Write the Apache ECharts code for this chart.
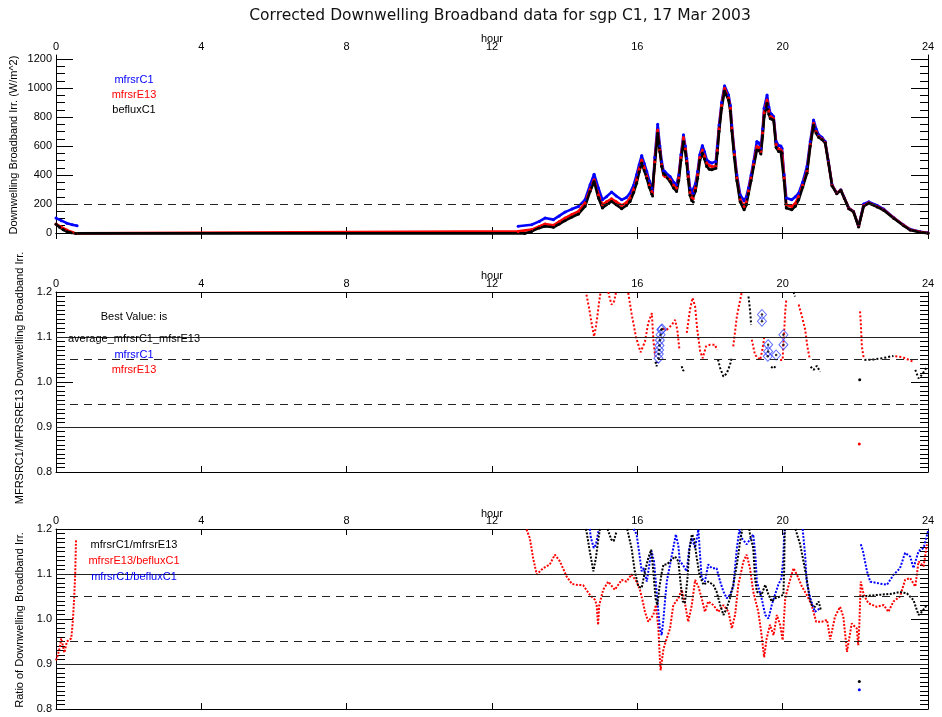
<!DOCTYPE html>
<html><head><meta charset="utf-8">
<script src="https://cdn.jsdelivr.net/npm/echarts@6/dist/echarts.min.js"></script>
<style>html,body{margin:0;padding:0;background:#fff}#c{width:942px;height:717px}</style>
</head><body><div id="c"></div>
<script>
// ---------- tick labels ----------
const hourTicks = [0, 4, 8, 12, 16, 20, 24];
const irrTicks = [0, 200, 400, 600, 800, 1000, 1200];
const ratioTicks = [0.8, 0.9, 1.0, 1.1, 1.2];

// ---------- top panel: irradiance (W/m^2), [hour, value], null = gap ----------
const irrMfrsrC1 = [[0,103],[0.15,85],[0.3,68],[0.45,57],[0.58,50],null,
[12.72,46],[13.09,57],[13.3,80],[13.46,103],[13.69,92],[13.85,118],[14.01,144],[14.2,165],[14.38,183],[14.56,229],[14.70,332],[14.81,406],[14.93,310],[15.04,229],[15.15,250],[15.29,282],[15.42,255],[15.57,229],[15.70,245],[15.80,275],[15.90,330],[15.98,401],[16.05,470],[16.12,534],[16.19,480],[16.26,424],[16.33,360],[16.40,310],[16.42,290],[16.48,520],[16.56,750],[16.62,600],[16.67,493],[16.72,430],[16.76,424],[16.90,390],[17.00,350],[17.08,332],[17.14,400],[17.20,539],[17.27,677],[17.32,600],[17.36,516],[17.40,420],[17.45,310],[17.50,280],[17.54,275],[17.60,340],[17.66,424],[17.72,540],[17.79,603],[17.85,560],[17.91,505],[17.98,490],[18.05,482],[18.16,493],[18.20,600],[18.25,745],[18.32,900],[18.40,1016],[18.51,952],[18.56,880],[18.60,745],[18.67,562],[18.74,401],[18.83,264],[18.94,222],[19.00,250],[19.06,310],[19.13,400],[19.20,493],[19.29,631],[19.35,620],[19.40,585],[19.45,720],[19.49,860],[19.57,952],[19.62,870],[19.66,826],[19.70,820],[19.75,803],[19.82,631],[19.89,603],[19.95,600],[19.98,585],[20.04,401],[20.10,241],[20.25,229],[20.35,250],[20.44,275],[20.55,350],[20.67,459],[20.76,631],[20.85,780],[20.92,720],[20.99,677],[21.08,660],[21.17,631],[21.26,493],[21.36,332],[21.49,275],[21.60,298],[21.70,241],[21.82,172],[21.95,149],[22.09,46],[22.23,200],[22.37,215],[22.60,190],[22.78,165],[23.06,105],[23.33,55],[23.51,25],[23.79,8],[24,2]];
const irrMfrsrE13 = [[0,62],[0.15,40],[0.3,20],[0.45,5],[0.55,-3],[12.72,11],[13.09,23],[13.3,45],[13.46,62],[13.69,53],[13.85,78],[14.01,103],[14.2,128],[14.38,149],[14.56,206],[14.70,298],[14.81,367],[14.93,264],[15.04,195],[15.15,215],[15.29,236],[15.42,215],[15.57,190],[15.70,210],[15.80,241],[15.90,300],[15.98,367],[16.05,440],[16.12,504],[16.19,450],[16.26,390],[16.33,330],[16.40,287],[16.42,270],[16.48,490],[16.56,711],[16.62,570],[16.67,470],[16.72,400],[16.76,390],[16.90,367],[17.00,330],[17.08,310],[17.14,380],[17.20,520],[17.27,658],[17.32,580],[17.36,495],[17.40,390],[17.45,280],[17.50,245],[17.54,236],[17.60,310],[17.66,401],[17.72,520],[17.79,573],[17.85,530],[17.91,482],[17.98,465],[18.05,459],[18.16,459],[18.20,570],[18.25,720],[18.32,880],[18.40,998],[18.51,930],[18.56,860],[18.60,725],[18.67,540],[18.74,380],[18.83,230],[18.94,183],[19.00,215],[19.06,290],[19.13,380],[19.20,470],[19.29,596],[19.35,590],[19.40,560],[19.45,690],[19.49,830],[19.57,917],[19.62,840],[19.66,803],[19.70,800],[19.75,790],[19.82,610],[19.89,580],[19.95,575],[19.98,560],[20.04,380],[20.10,195],[20.25,183],[20.35,205],[20.44,252],[20.55,330],[20.67,424],[20.76,610],[20.85,757],[20.92,700],[20.99,665],[21.08,650],[21.17,625],[21.26,488],[21.36,330],[21.49,272],[21.60,296],[21.70,240],[21.82,170],[21.95,147],[22.09,44],[22.23,190],[22.37,208],[22.60,183],[22.78,160],[23.06,103],[23.33,53],[23.51,23],[23.79,7],[24,0]];
const irrBefluxC1 = [[0,60],[0.1,40],[0.2,22],[0.3,10],[0.42,2],[0.55,-3],[12.9,-3],[13.09,11],[13.3,35],[13.46,46],[13.69,39],[13.85,62],[14.01,85],[14.2,110],[14.38,131],[14.56,183],[14.70,287],[14.81,355],[14.93,241],[15.04,172],[15.15,195],[15.29,218],[15.42,195],[15.57,167],[15.70,190],[15.80,218],[15.90,280],[15.98,344],[16.05,420],[16.12,482],[16.19,430],[16.26,378],[16.33,315],[16.40,268],[16.42,255],[16.48,470],[16.56,688],[16.62,560],[16.67,460],[16.72,410],[16.76,401],[16.90,355],[17.00,310],[17.08,287],[17.14,360],[17.20,500],[17.27,631],[17.32,560],[17.36,480],[17.40,370],[17.45,260],[17.50,222],[17.54,213],[17.60,290],[17.66,378],[17.72,500],[17.79,550],[17.85,510],[17.91,459],[17.98,440],[18.05,436],[18.16,447],[18.20,550],[18.25,700],[18.32,860],[18.40,979],[18.51,917],[18.56,840],[18.60,705],[18.67,520],[18.74,360],[18.83,215],[18.94,160],[19.00,195],[19.06,270],[19.13,360],[19.20,455],[19.29,573],[19.35,570],[19.40,545],[19.45,670],[19.49,800],[19.57,895],[19.62,820],[19.66,790],[19.70,785],[19.75,780],[19.82,590],[19.89,562],[19.95,560],[19.98,550],[20.04,360],[20.10,172],[20.25,160],[20.35,185],[20.44,229],[20.55,315],[20.67,413],[20.76,600],[20.85,745],[20.92,690],[20.99,660],[21.08,645],[21.17,620],[21.26,485],[21.36,325],[21.49,270],[21.60,294],[21.70,238],[21.82,168],[21.95,145],[22.09,42],[22.23,185],[22.37,205],[22.60,180],[22.78,157],[23.06,100],[23.33,50],[23.51,20],[23.79,4],[24,-2]];

// ---------- middle panel: best-value ratio mfrsrC1/mfrsrE13 ----------
const bestRed = [[14.60,1.194],[14.68,1.161],[14.74,1.131],[14.81,1.101],[14.86,1.123],[14.90,1.146],[14.95,1.179],[14.99,1.2],null,
[15.20,1.2],[15.23,1.19],[15.29,1.172],[15.36,1.179],[15.41,1.198],null,
[15.75,1.198],[15.84,1.153],[15.96,1.101],[16.09,1.066],[16.21,1.090],[16.30,1.131],[16.40,1.153],[16.44,1.094],[16.49,1.057],null,
[16.70,1.118],[16.81,1.116],[16.95,1.127],[17.04,1.138],[17.10,1.116],[17.16,1.071],null,
[17.36,1.109],[17.45,1.161],[17.52,1.187],[17.59,1.168],[17.65,1.116],[17.73,1.068],[17.80,1.053],[17.89,1.079],[18.00,1.083],[18.14,1.083],[18.19,1.071],null,
[18.64,1.079],[18.74,1.146],[18.87,1.198],null,
[19.15,1.094],[19.24,1.060],[19.38,1.049],[19.44,1.071],[19.47,1.086],[19.49,1.1],null,
[19.93,1.049],[20.00,1.049],[20.02,1.086],[20.04,1.109],[20.07,1.157],[20.10,1.183],null,
[20.44,1.172],[20.53,1.146],[20.62,1.116],[20.68,1.079],[20.74,1.053],null,
[22.11,0.862],null,
[22.13,1.157],[22.15,1.131],[22.18,1.079],[22.23,1.053],null,
[23.10,1.057],[23.30,1.055],[23.45,1.05],[23.60,1.045]];
const bestBlack = [[16.50,1.045],[16.53,1.035],[16.56,1.045],null,
[17.22,1.035],[17.26,1.025],[17.31,1.03],null,
[18.22,1.05],[18.28,1.031],[18.37,1.012],[18.46,1.019],[18.55,1.038],[18.60,1.055],null,
[19.06,1.19],[19.10,1.161],[19.12,1.142],[19.13,1.127],null,
[19.68,1.034],[19.75,1.03],[19.80,1.035],null,
[20.30,1.2],[20.34,1.19],null,
[20.77,1.034],[20.85,1.027],[20.94,1.036],[21.03,1.023],null,
[22.12,1.005],null,
[22.25,1.049],[22.50,1.05],[22.75,1.053],[23.05,1.058],null,
[23.65,1.027],[23.74,1.008],[23.83,1.016],[23.97,1.033]];
const bestBlue = [[16.58,1.053],[16.59,1.062],[16.60,1.071],[16.61,1.081],[16.62,1.093],[16.64,1.105],[16.66,1.116],[16.68,1.118],[19.43,1.15],[19.43,1.135],[19.60,1.083],[19.60,1.068],[19.59,1.057],[19.82,1.06],[20.02,1.105],[20.02,1.083]];

// ---------- bottom panel: ratios ----------
const ratioC1E13 = [[14.58,1.2],[14.60,1.195],[14.69,1.151],[14.79,1.106],[14.86,1.136],[14.92,1.173],[14.97,1.2],null,
[15.18,1.2],[15.28,1.177],[15.35,1.173],[15.43,1.195],null,
[15.72,1.2],[15.75,1.199],[15.84,1.158],[15.93,1.106],[16.03,1.072],[16.12,1.069],[16.21,1.106],[16.30,1.135],[16.38,1.154],[16.44,1.106],[16.50,1.046],[16.55,1.031],[16.61,1.072],[16.67,1.102],[16.72,1.121],[16.81,1.121],[16.95,1.132],[17.04,1.139],[17.13,1.128],[17.19,1.080],[17.25,1.039],[17.31,1.035],[17.38,1.091],[17.43,1.151],[17.50,1.188],[17.56,1.18],[17.63,1.139],[17.71,1.098],[17.82,1.076],[17.95,1.083],[18.09,1.076],[18.18,1.061],[18.28,1.031],[18.37,1.009],[18.46,1.024],[18.55,1.046],[18.64,1.076],[18.74,1.121],[18.83,1.173],[18.89,1.2],null,
[19.08,1.2],[19.10,1.188],[19.19,1.158],[19.24,1.091],[19.29,1.061],[19.42,1.054],[19.52,1.076],[19.61,1.054],[19.70,1.039],[19.79,1.046],[19.93,1.050],[20.02,1.054],[20.04,1.106],[20.05,1.158],[20.06,1.2],null,
[20.35,1.2],[20.37,1.199],[20.48,1.166],[20.59,1.121],[20.66,1.091],[20.74,1.046],[20.80,1.031],[20.89,1.027],[20.99,1.039],[21.05,1.020],null,
[22.11,0.861],null,
[22.18,1.050],[22.40,1.052],[22.70,1.054],[23.0,1.056],[23.23,1.06],[23.42,1.057],[23.60,1.042],[23.74,1.009],[23.83,1.016],[23.97,1.031]];
const ratioE13Beflux = [[0.0,0.908],[0.05,0.92],[0.1,0.935],[0.145,0.957],[0.19,0.94],[0.23,0.925],[0.3,0.95],[0.42,0.957],[0.46,0.992],[0.5,1.046],[0.53,1.104],[0.55,1.175],null,
[12.95,1.199],[13.04,1.180],[13.13,1.136],[13.23,1.099],[13.41,1.113],[13.59,1.121],[13.73,1.143],[13.87,1.128],[14.05,1.095],[14.20,1.078],[14.33,1.076],[14.51,1.075],[14.69,1.054],[14.83,1.043],[14.88,1.032],[14.90,1.009],[14.92,0.987],[14.95,1.03],[15.06,1.065],[15.20,1.083],[15.38,1.065],[15.57,1.087],[15.70,1.083],[15.84,1.099],[15.98,1.083],[16.07,1.065],[16.15,1.039],[16.21,1.016],[16.30,0.994],[16.44,1.009],[16.51,1.031],[16.58,0.979],[16.62,0.912],[16.64,0.886],[16.72,0.934],[16.81,0.957],[16.90,0.979],[16.99,1.031],[17.13,1.046],[17.22,1.065],[17.31,1.035],[17.40,0.994],[17.50,1.031],[17.59,1.087],[17.68,1.072],[17.77,1.046],[17.86,1.016],[17.95,1.039],[18.09,1.031],[18.23,1.016],[18.37,1.031],[18.51,1.016],[18.60,0.979],[18.69,1.009],[18.78,1.076],[18.92,1.128],[19.01,1.143],[19.10,1.113],[19.19,1.061],[19.33,1.016],[19.42,0.964],[19.49,0.915],[19.56,0.957],[19.65,0.987],[19.75,0.964],[19.84,1.009],[19.93,0.987],[20.00,0.953],[20.07,1.046],[20.19,1.083],[20.30,1.113],[20.41,1.095],[20.53,1.072],[20.66,1.054],[20.80,1.031],[20.92,0.994],[21.08,0.994],[21.22,0.998],[21.31,0.955],[21.44,1.005],[21.58,1.027],[21.67,1.005],[21.77,0.927],[21.90,0.990],[22.04,0.979],[22.08,0.942],[22.11,0.987],[22.15,1.083],[22.23,1.054],[22.36,1.035],[22.59,1.027],[22.78,1.031],[22.91,1.016],[23.05,1.039],[23.23,1.050],[23.37,1.087],[23.51,1.091],[23.65,1.072],[23.74,1.128],[23.88,1.117],[23.97,1.166]];
const ratioC1Beflux = [[14.69,1.2],[14.72,1.181],[14.80,1.158],[14.86,1.165],[14.93,1.195],null,
[15.90,1.2],[15.98,1.188],[16.07,1.136],[16.12,1.106],[16.18,1.113],[16.26,1.083],[16.33,1.121],[16.39,1.151],[16.46,1.128],[16.53,1.061],[16.58,1.016],[16.62,0.979],[16.67,0.964],[16.72,1.001],[16.76,1.039],[16.81,1.083],[16.90,1.121],[16.99,1.158],[17.06,1.188],[17.13,1.162],[17.17,1.128],[17.25,1.121],[17.36,1.106],[17.43,1.158],[17.50,1.180],[17.59,1.158],[17.68,1.199],[17.72,1.15],[17.77,1.091],[17.86,1.083],[17.95,1.121],[18.05,1.113],[18.18,1.113],[18.28,1.083],[18.37,1.061],[18.46,1.046],[18.55,1.054],[18.64,1.072],[18.74,1.158],[18.81,1.199],[18.87,1.18],[19.01,1.166],[19.19,1.188],[19.25,1.14],[19.29,1.083],[19.42,1.046],[19.52,1.009],[19.61,1.001],[19.70,1.031],[19.79,1.054],[19.88,1.076],[19.97,1.091],[20.02,1.14],[20.04,1.188],[20.06,1.2],null,
[20.55,1.2],[20.57,1.199],[20.62,1.14],[20.66,1.083],[20.76,1.046],[20.89,1.016],[21.03,1.024],null,
[22.11,0.843],null,
[22.15,1.166],[22.21,1.151],[22.32,1.106],[22.41,1.083],[22.59,1.080],[22.87,1.076],[23.05,1.098],[23.23,1.113],[23.37,1.147],[23.51,1.139],[23.60,1.113],[23.74,1.151],[23.88,1.158],[24.0,1.195]];

// ---------- reference lines ----------
const irrRefDashed = [200];
const ratioRefSolid = [1.1, 0.9];
const ratioRefDashed = [1.05, 0.95];

// ---------- build ----------
const FONT = '"Liberation Sans", Arial, sans-serif';
const BLUE = '#0000ff', RED = '#ff0000', BLACK = '#000000';
const panels = [{top:55, h:179}, {top:292, h:180}, {top:529, h:180}];
const PLOT_L = 56, PLOT_R = 14;

function splitSegs(arr) {
  const segs = []; let cur = [];
  arr.forEach(p => { if (p === null) { if (cur.length) segs.push(cur); cur = []; } else cur.push(p); });
  if (cur.length) segs.push(cur);
  return segs;
}

const grid = panels.map(p => ({left: PLOT_L, right: PLOT_R, top: p.top, height: p.h, containLabel: false, outerBoundsMode: 'none'}));

const xAxis = [];
panels.forEach((p, i) => {
  const base = {gridIndex: i, type: 'value', min: 0, max: 24, interval: 4,
    axisLine: {show: true, lineStyle: {color: BLACK, width: 1}},
    axisTick: {show: true, inside: true, length: 6, lineStyle: {color: BLACK}},
    splitLine: {show: false}};
  xAxis.push(Object.assign({}, base, {position: 'top',
    axisLabel: {show: true, margin: 3, color: BLACK, fontFamily: FONT, fontSize: 11,
      customValues: hourTicks, formatter: v => String(v)}}));
  xAxis.push(Object.assign({}, base, {position: 'bottom', axisLabel: {show: false}}));
});

const yAxis = [];
function addYPair(g, min, max, majors, minors, fmt) {
  ['left', 'right'].forEach(pos => {
    yAxis.push({gridIndex: g, type: 'value', position: pos, min, max,
      axisLine: {show: true, lineStyle: {color: BLACK}},
      axisTick: {show: true, inside: true, length: 17, customValues: majors, lineStyle: {color: BLACK}},
      axisLabel: {show: pos === 'left', margin: 4, color: BLACK, fontFamily: FONT, fontSize: 11,
        customValues: majors, formatter: fmt},
      splitLine: {show: false}});
    yAxis.push({gridIndex: g, type: 'value', position: pos, min, max,
      axisLine: {show: false},
      axisTick: {show: true, inside: true, length: pos === 'left' ? 9 : 8, customValues: minors, lineStyle: {color: BLACK}},
      axisLabel: {show: false}, splitLine: {show: false}});
  });
}
// top panel: axes 0..3
const irrMinor = [];
for (let v = 50; v < 1228; v += 50) if (v % 200 !== 0) irrMinor.push(v);
addYPair(0, -7, 1228, irrTicks, irrMinor, v => String(Math.round(v)));
// ratio panels: axes 4..7 and 8..11
const ratioMinor = [];
for (let k = 81; k < 120; k++) if (k % 10 !== 0) ratioMinor.push(k / 100);
addYPair(1, 0.8, 1.2, ratioTicks, ratioMinor, v => v.toFixed(1));
addYPair(2, 0.8, 1.2, ratioTicks, ratioMinor, v => v.toFixed(1));

function refMarkLine(solid, dashed) {
  const data = [];
  solid.forEach(v => data.push({yAxis: v, lineStyle: {type: 'solid', color: '#222', width: 1}}));
  dashed.forEach(v => data.push({yAxis: v, lineStyle: {type: [8, 6], color: '#222', width: 1}}));
  return {silent: true, symbol: 'none', label: {show: false}, animation: false, data};
}

const series = [];
function addLine(arr, color, xi, yi, width, type, symSize, markLine) {
  splitSegs(arr).forEach((seg, k) => {
    const s = {type: 'line', xAxisIndex: xi, yAxisIndex: yi, data: seg,
      lineStyle: {color, width, type}, itemStyle: {color},
      symbol: 'circle', symbolSize: seg.length === 1 ? 3 : symSize, showSymbol: seg.length === 1 || symSize > 0,
      showAllSymbol: true, animation: false, silent: true, clip: true, z: 3};
    if (markLine && k === 0) s.markLine = markLine;
    series.push(s);
  });
}
// top
addLine(irrMfrsrC1, BLUE, 0, 0, 2.6, 'solid', 3, refMarkLine([], irrRefDashed));
addLine(irrMfrsrE13, RED, 0, 0, 2.6, 'solid', 3);
addLine(irrBefluxC1, BLACK, 0, 0, 2.6, 'solid', 3);
// middle
addLine(bestRed, RED, 2, 4, 2, 'dotted', 0, refMarkLine(ratioRefSolid, ratioRefDashed));
addLine(bestBlack, BLACK, 2, 4, 2, 'dotted', 0);
series.push({type: 'scatter', xAxisIndex: 2, yAxisIndex: 4, data: bestBlue, symbol: 'diamond', symbolSize: [9, 10],
  itemStyle: {color: 'rgba(0,0,0,0)', borderColor: '#3344ff', borderWidth: 1}, animation: false, silent: true, z: 4});
series.push({type: 'scatter', xAxisIndex: 2, yAxisIndex: 4, data: bestBlue, symbol: 'circle', symbolSize: 2.5,
  itemStyle: {color: BLACK}, animation: false, silent: true, z: 5});
// bottom
addLine(ratioE13Beflux, RED, 4, 8, 2, [2, 1.5], 0, refMarkLine(ratioRefSolid, ratioRefDashed));
addLine(ratioC1Beflux, BLUE, 4, 8, 2, [2, 1.5], 0);
addLine(ratioC1E13, BLACK, 4, 8, 2, [2, 1.5], 0);

// ---------- texts ----------
const txt = (x, y, text, color, size, extra) => Object.assign({type: 'text', x, y, silent: true, z: 10,
  style: {text, fill: color || BLACK, font: (size || 11) + 'px ' + FONT, align: 'center', verticalAlign: 'middle'}}, extra || {});
const graphic = [
  {type: 'text', x: 500, y: 16, silent: true, style: {text: 'Corrected Downwelling Broadband data for sgp C1, 17 Mar 2003',
    fill: '#111', font: '15.5px "DejaVu Sans", sans-serif', align: 'center', verticalAlign: 'middle'}},
  txt(492, 39, 'hour'), txt(492, 276, 'hour'), txt(492, 514, 'hour'),
  txt(134, 80, 'mfrsrC1', BLUE), txt(134, 95, 'mfrsrE13', RED), txt(134, 110, 'befluxC1', BLACK),
  txt(134, 317, 'Best Value: is'), txt(134, 339, 'average_mfrsrC1_mfsrE13'),
  txt(134, 355, 'mfrsrC1', BLUE), txt(134, 370, 'mfrsrE13', RED),
  txt(134, 545, 'mfrsrC1/mfrsrE13', BLACK), txt(134, 561, 'mfrsrE13/befluxC1', RED), txt(134, 577, 'mfrsrC1/befluxC1', BLUE),
  txt(14, 145, 'Downwelling Broadband Irr. (W/m^2)', BLACK, 11, {rotation: Math.PI / 2}),
  txt(20, 378, 'MFRSRC1/MFRSRE13 Downwelling Broadband Irr.', BLACK, 11, {rotation: Math.PI / 2}),
  txt(20, 620, 'Ratio of Downwelling Broadband Irr.', BLACK, 11, {rotation: Math.PI / 2})
];

const chart = echarts.init(document.getElementById('c'), null, {renderer: 'canvas'});
chart.setOption({backgroundColor: '#fff', animation: false, grid, xAxis, yAxis, series, graphic});
</script>
</body></html>
